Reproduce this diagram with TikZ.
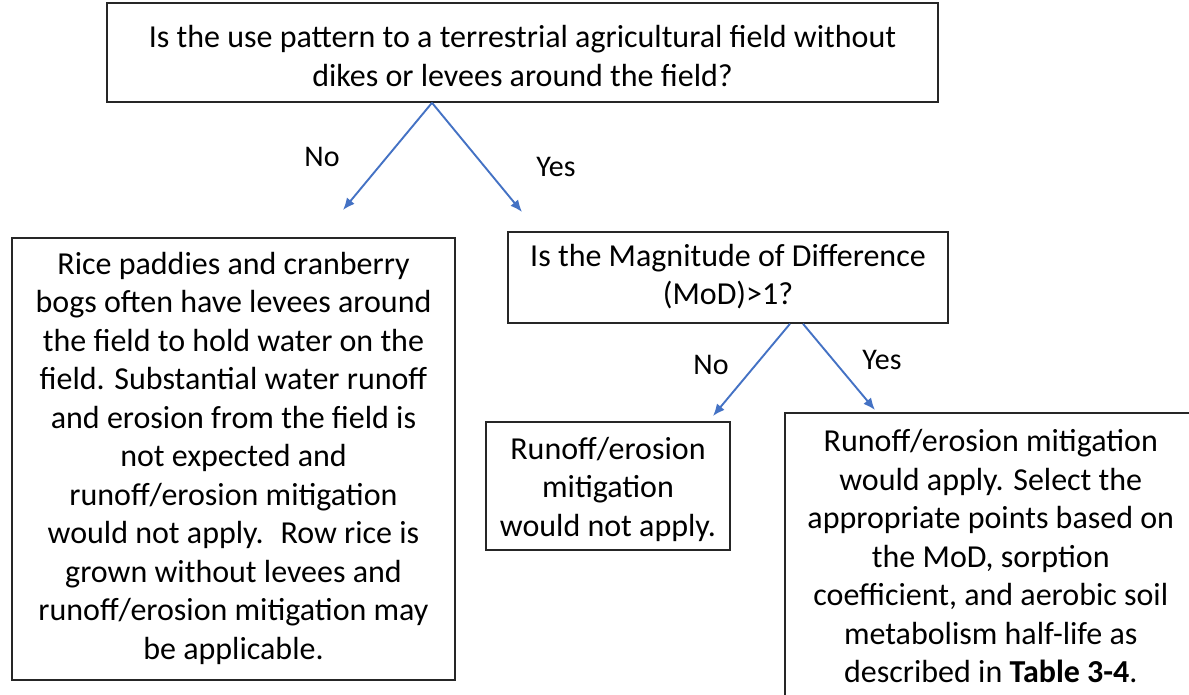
\documentclass[tikz,border=0pt]{standalone}
\usepackage{fontspec}
\setmainfont{Carlito}
\usetikzlibrary{arrows.meta,positioning}
\definecolor{linkblue}{RGB}{68,114,196}
\newcommand{\tstrut}{\rule{0pt}{30pt}}
\newcommand{\pad}[1]{\rule[-#1pt]{0pt}{#1pt}}

\begin{document}
\begin{tikzpicture}[
x=1pt, y=-1pt,
box/.style={draw=black!85, line width=1.6pt, align=center, inner sep=0pt, font=\fontsize{32}{38.5}\selectfont},
arrow/.style={-{Latex[length=12pt,width=10pt]}, draw=linkblue, line width=1.9pt},
lbl/.style={font=\fontsize{30}{34}\selectfont}
]
\useasboundingbox (0,0) rectangle (1189,695);
\clip (0,0) rectangle (1189,695);

\node[box, minimum width=831pt, minimum height=99pt] (field) at (522.5,52.5) {\tstrut Is the use pattern to a terrestrial agricultural field without\\dikes or levees around the field?\pad{1}};
\node[box, minimum width=443pt, minimum height=442pt] (levee) at (233.5,459) {\tstrut Rice paddies and cranberry\\bogs often have levees around\\the field to hold water on the\\field. Substantial water runoff\\and erosion from the field is\\not expected and\\runoff/erosion mitigation\\would not apply.~ Row rice is\\grown without levees and\\runoff/erosion mitigation may\\be applicable.\pad{15}};
\node[box, minimum width=440pt, minimum height=91pt] (mod) at (728,277.5) {\tstrut Is the Magnitude of Difference\\(MoD)>1?\pad{14}};
\node[box, minimum width=244pt, minimum height=128pt] (noapply) at (608,486) {\tstrut Runoff/erosion\\mitigation\\would not apply.\pad{7}};
\node[box, anchor=north west, minimum width=412pt, minimum height=300pt] (apply) at (784,412) {\tstrut Runoff/erosion mitigation\\would apply. Select the\\appropriate points based on\\the MoD, sorption\\coefficient, and aerobic soil\\metabolism half-life as\\described in \textbf{Table 3-4}.\pad{21}};

\node[lbl] (no1) at (322,157) {No};
\node[lbl] (yes1) at (556,167) {Yes};
\node[lbl] (no2) at (711,365) {No};
\node[lbl] (yes2) at (882,360) {Yes};

\coordinate (noend1) at (343,210);
\coordinate (yesend1) at (522,212);
\coordinate (noend2) at (713,416);
\coordinate (yesend2) at (875,410);

\draw[arrow] ([xshift=-90.5pt]field.south) -- (noend1);
\draw[arrow] ([xshift=-90.5pt]field.south) -- (yesend1);
\draw[arrow] ([xshift=62pt]mod.south) -- (noend2);
\draw[arrow] ([xshift=75pt]mod.south) -- (yesend2);
\end{tikzpicture}
\end{document}
